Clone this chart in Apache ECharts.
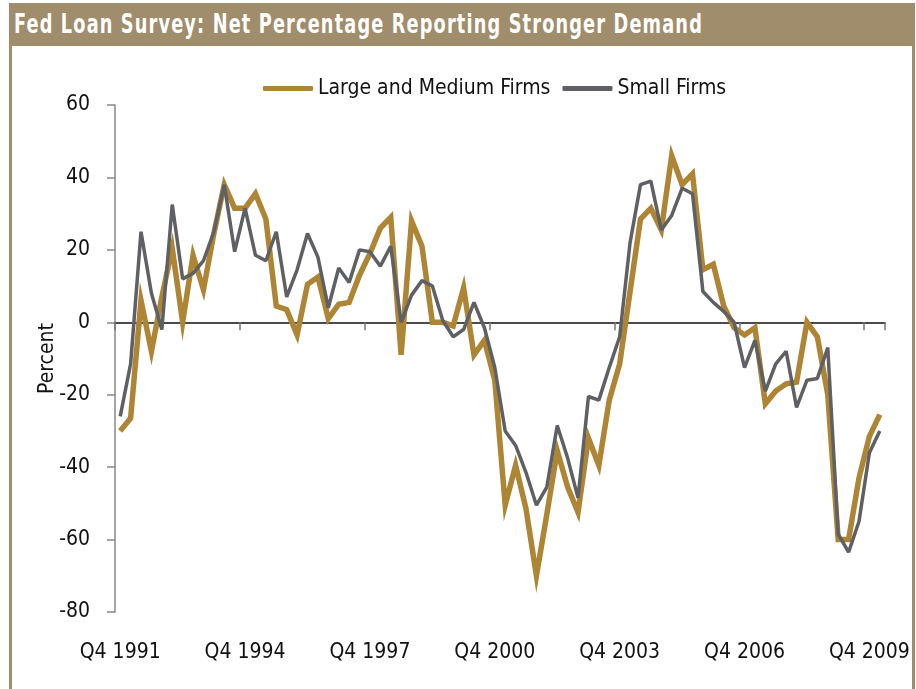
<!DOCTYPE html>
<html>
<head>
<meta charset="utf-8">
<script src="https://cdn.jsdelivr.net/npm/echarts@6/dist/echarts.min.js"></script>
<style>
    html, body {
        margin: 0;
        padding: 0;
        background: #ffffff;
    }
    .frame {
        position: absolute;
        left: 9px;
        top: 3px;
        width: 906px;
        height: 700px;
        border: 3px solid #9f8d6b;
        border-top: none;
        box-sizing: border-box;
    }
    .title-bar {
        position: absolute;
        left: 9px;
        top: 3px;
        width: 906px;
        height: 43px;
        background: #9f8d6b;
        overflow: hidden;
    }
    .title-bar span {
        position: absolute;
        left: 5px;
        top: 0;
        line-height: 43px;
        color: #ffffff;
        font-family: "DejaVu Sans Condensed", "Liberation Sans", Arial, sans-serif;
        font-weight: bold;
        font-size: 26px;
        letter-spacing: 1.5px;
        white-space: nowrap;
        transform-origin: 0 50%;
    }
    #chart {
        position: absolute;
        left: 0;
        top: 0;
        width: 916px;
        height: 689px;
    }
</style>
</head>
<body>
<div class="frame"></div>
<div class="title-bar"><span id="title">Fed Loan Survey: Net Percentage Reporting Stronger Demand</span></div>
<div id="chart"></div>
<script>
// quarterly, Q4 1991 .. Q1 2010
const quarters = [];
for (let y = 1991, q = 4; quarters.length < 74; ) {
    quarters.push("Q" + q + " " + y);
    q++;
    if (q > 4) { q = 1; y++; }
}

const largeMediumFirms = [
    -30, -26.5, 6, -8, 7, 20.5, 0, 18.5, 9, 24.5,
    38, 31.5, 31.5, 35.5, 28.5, 4.5, 3.5, -3.5, 10.5, 12.5,
    1, 5, 5.5, 13, 19, 26, 29, -9, 28, 21,
    0, 0, -1, 9.5, -9, -5, -16, -50.5, -39.5, -51.5,
    -70, -53, -35.5, -45.5, -52.5, -32, -39.5, -21.5, -11.5, 8.5,
    28.5, 31.5, 25.5, 46, 38, 41, 14.5, 16, 4.5, -1.5,
    -3.5, -1.5, -22.5, -19, -17, -16.5, 0, -4, -20, -60,
    -60, -43, -31.5, -25.5
];

const smallFirms = [
    -26, -11.5, 25, 8, -2, 32.5, 12, 13.5, 17, 25,
    38, 19.5, 31.5, 18.5, 17, 25, 7, 14.5, 24.5, 18,
    4, 15, 11, 20, 19.5, 15.5, 21, 0, 7.5, 11.5,
    10, 0.5, -4, -2, 5.5, -1.5, -12.5, -30, -34, -41.5,
    -50.5, -45.5, -28.5, -37.5, -48.5, -20.5, -21.5, -12.5, -4, 22,
    38, 39, 25.5, 29.5, 37, 35.5, 8.5, 5.5, 3, 0,
    -12.5, -5, -19, -11.5, -8, -23.5, -16, -15.5, -7, -58.5,
    -63.5, -55, -36, -30
];

const yTicks = { min: -80, max: 60, step: 20 };

const FONT = '"DejaVu Sans Condensed", "Liberation Sans", Arial, sans-serif';
const GOLD = "#ad8534";
const GRAY = "#5f6064";

// squeeze the title to the condensed width of the original
const titleEl = document.getElementById("title");
const titleW = titleEl.getBoundingClientRect().width;
titleEl.style.transform = "scaleX(" + (689 / titleW) + ")";

const chart = echarts.init(document.getElementById("chart"));

const option = {
    animation: false,
    textStyle: { fontFamily: FONT },
    legend: {
        left: 258,
        top: 73,
        itemWidth: 50,
        itemHeight: 5,
        itemGap: 12,
        icon: "roundRect",
        textStyle: { fontSize: 21, color: "#111", fontFamily: FONT },
        data: ["Large and Medium Firms", "Small Firms"],
    },
    grid: {
        left: 115,
        right: 31,
        top: 105,
        bottom: 77,
    },
    xAxis: [
        {
            type: "category",
            data: quarters,
            boundaryGap: true,
            position: "bottom",
            axisLine: { show: false, onZero: false },
            axisTick: { show: false },
            axisLabel: {
                interval: 11,
                fontSize: 21,
                color: "#111",
                margin: 30,
            },
        },
        {
            type: "category",
            data: quarters,
            boundaryGap: true,
            position: "bottom",
            axisLine: { show: true, onZero: true, lineStyle: { color: "#111", width: 1.5 } },
            axisTick: { show: true, interval: 11, length: 8, lineStyle: { color: "#777", width: 1.5 } },
            axisLabel: { show: false },
        },
    ],
    yAxis: {
        type: "value",
        min: yTicks.min,
        max: yTicks.max,
        interval: yTicks.step,
        name: "Percent",
        nameLocation: "middle",
        nameRotate: 90,
        nameGap: 57,
        nameMoveOverlap: false,
        nameTextStyle: { fontSize: 21, color: "#111", fontFamily: FONT },
        axisLine: { show: true, lineStyle: { color: "#888", width: 1.5 } },
        axisTick: { show: true, length: 8, lineStyle: { color: "#888", width: 1.5 } },
        axisLabel: { fontSize: 21, color: "#111", margin: 25 },
        splitLine: { show: false },
    },
    series: [
        {
            name: "Large and Medium Firms",
            type: "line",
            xAxisIndex: 0,
            data: largeMediumFirms,
            symbol: "none",
            lineStyle: { color: GOLD, width: 5.5, join: "miter" },
            itemStyle: { color: GOLD },
        },
        {
            name: "Small Firms",
            type: "line",
            xAxisIndex: 0,
            data: smallFirms,
            symbol: "none",
            lineStyle: { color: GRAY, width: 3.5 },
            itemStyle: { color: GRAY },
        },
    ],
};

chart.setOption(option);
</script>
</body>
</html>
